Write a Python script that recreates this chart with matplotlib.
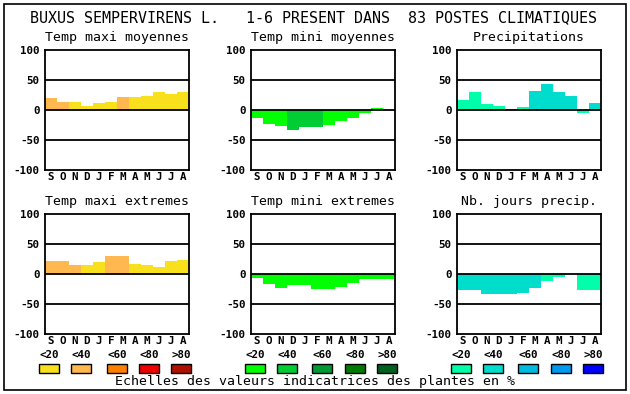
import matplotlib
matplotlib.use("Agg")
import matplotlib.pyplot as plt
from matplotlib.patches import Rectangle

W, H = 630, 394

title = "BUXUS SEMPERVIRENS L.   1-6 PRESENT DANS  83 POSTES CLIMATIQUES"
months = ["S", "O", "N", "D", "J", "F", "M", "A", "M", "J", "J", "A"]
yticks = [100, 50, 0, -50, -100]
legend_labels = ["<20", "<40", "<60", "<80", ">80"]
footer = "Echelles des valeurs indicatrices des plantes en %"

warm_scale = ["#F8E01C", "#FFB850", "#FF8000", "#EE0000", "#B01000"]
green_scale = ["#00FF00", "#00CC33", "#009933", "#007A00", "#006020"]
blue_scale = ["#00FFAA", "#00DDCC", "#00BBDD", "#0099EE", "#0000FF"]

# panel titles
titles = ["Temp maxi moyennes", "Temp mini moyennes", "Precipitations",
          "Temp maxi extremes", "Temp mini extremes", "Nb. jours precip."]

# values per month (S..A) and class index of colour scale
tmax_moy = [20, 13, 13, 7, 12, 13, 22, 22, 23, 30, 27, 30]
tmax_moy_cls = [1, 1, 0, 0, 0, 0, 1, 0, 0, 0, 0, 0]
tmin_moy = [-13, -23, -27, -33, -28, -28, -25, -18, -13, -5, 3, 0]
tmin_moy_cls = [0, 0, 0, 1, 1, 1, 0, 0, 0, 0, 0, 0]
precip = [17, 30, 10, 7, 2, 5, 32, 43, 30, 23, -5, 12]
precip_cls = [0, 0, 0, 0, 0, 0, 1, 1, 1, 1, 0, 1]
tmax_ext = [22, 22, 15, 15, 20, 30, 30, 17, 15, 12, 22, 23]
tmax_ext_cls = [1, 1, 1, 0, 0, 1, 1, 0, 0, 0, 0, 0]
tmin_ext = [-7, -17, -23, -18, -18, -25, -25, -22, -15, -8, -8, -8]
tmin_ext_cls = [0, 0, 0, 0, 0, 0, 0, 0, 0, 0, 0, 0]
nb_jours = [-27, -27, -33, -33, -33, -32, -23, -12, -5, 0, -27, -27]
nb_jours_cls = [1, 1, 1, 1, 1, 1, 1, 0, 0, 0, 0, 0]

panels = [
    (tmax_moy, tmax_moy_cls, warm_scale),
    (tmin_moy, tmin_moy_cls, green_scale),
    (precip, precip_cls, blue_scale),
    (tmax_ext, tmax_ext_cls, warm_scale),
    (tmin_ext, tmin_ext_cls, green_scale),
    (nb_jours, nb_jours_cls, blue_scale),
]

MONO = "DejaVu Sans Mono"
TICK_FS = 7.8

fig = plt.figure(figsize=(W / 100, H / 100), dpi=100)
fig.patch.set_facecolor("white")

def px_axes(x0, y0, x1, y1):
    return fig.add_axes([x0 / W, 1 - y1 / H, (x1 - x0) / W, (y1 - y0) / H])

# outer frame
fig.patches.append(Rectangle((4 / W, 1 - 390 / H), 622 / W, 386 / H,
                             transform=fig.transFigure, fill=False,
                             edgecolor="black", linewidth=1.2))

fig.text(314 / W, 1 - 18 / H, title, ha="center", va="center",
         family=MONO, fontsize=10.8)

col_x = [45, 251, 457]
row_y = [(50, 170), (214, 334)]

for i, (vals, cls, scale) in enumerate(panels):
    r, c = divmod(i, 3)
    x0 = col_x[c]
    y0, y1 = row_y[r]
    ax = px_axes(x0, y0, x0 + 144, y1)
    colors = [scale[k] for k in cls]
    ax.bar(range(len(months)), vals, width=1.0, color=colors, linewidth=0)
    for yl in (50, 0, -50):
        ax.axhline(yl, color="black", linewidth=1.3, zorder=3)
    ax.set_xlim(-0.5, 11.5)
    ax.set_ylim(-100, 100)
    ax.set_yticks(yticks)
    ax.set_yticklabels([str(v) for v in yticks], family=MONO,
                       fontweight="bold", fontsize=TICK_FS)
    ax.set_xticks(range(len(months)))
    ax.set_xticklabels(months, family=MONO, fontweight="bold", fontsize=TICK_FS)
    ax.tick_params(axis="x", length=0, pad=1.5)
    ax.tick_params(axis="y", length=0, pad=4)
    for s in ax.spines.values():
        s.set_linewidth(1.3)
        s.set_color("black")
    fig.text((x0 + 72) / W, 1 - (y0 - 12) / H, titles[i], ha="center",
             va="center", family=MONO, fontsize=9.5)

# legends
leg_x = [[39, 71, 107, 139, 171], [245, 277, 312, 345, 377],
         [451, 483, 518, 551, 583]]
scales = [warm_scale, green_scale, blue_scale]
for g in range(3):
    for k in range(5):
        bx = leg_x[g][k]
        fig.patches.append(Rectangle((bx / W, 1 - 373 / H), 20 / W, 9 / H,
                                     transform=fig.transFigure,
                                     facecolor=scales[g][k],
                                     edgecolor="black", linewidth=1.0))
        fig.text((bx + 10) / W, 1 - 355 / H, legend_labels[k], ha="center",
                 va="center", family=MONO, fontweight="bold", fontsize=TICK_FS)

fig.text(315 / W, 1 - 382 / H, footer, ha="center", va="center",
         family=MONO, fontsize=9.5)

fig.savefig("out.png", dpi=100, facecolor="white")
